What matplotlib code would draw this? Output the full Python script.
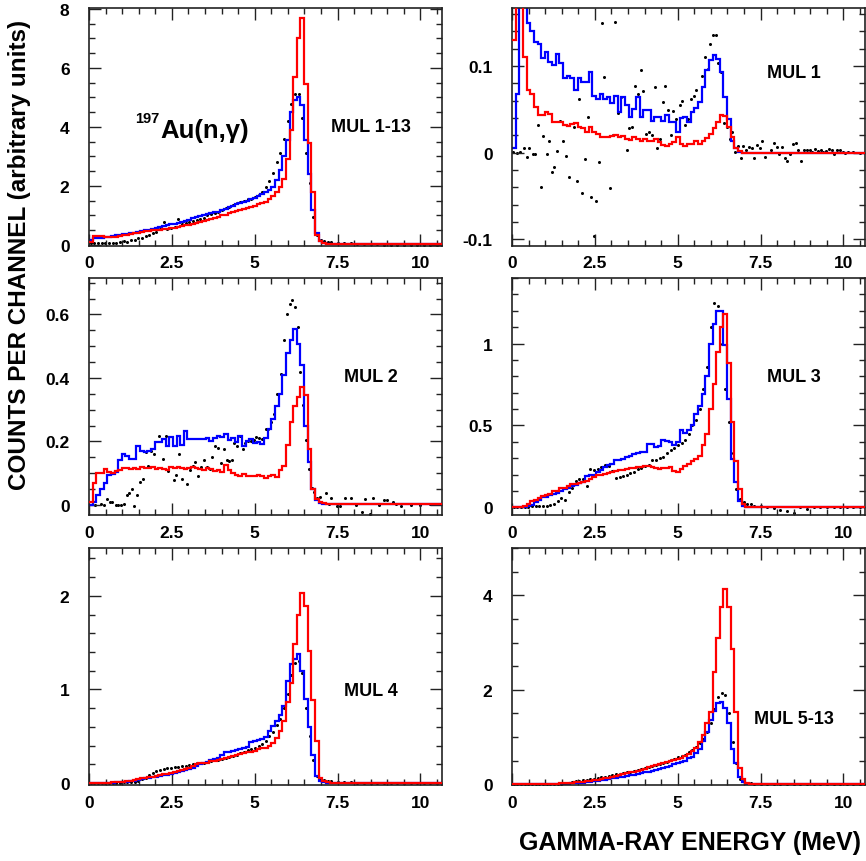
import numpy as np
import matplotlib
matplotlib.use('Agg')
import matplotlib.pyplot as plt
from matplotlib.ticker import MultipleLocator, FuncFormatter

plt.rcParams['font.family'] = ['Liberation Sans', 'DejaVu Sans']
plt.rcParams['font.weight'] = 'bold'

# channel structure: 66 channels of 0.11 MeV, then one wide overflow bin
BIN_WIDTH = 0.11
N_CH = 66
X_MAX = 10.65
edges = np.append(np.arange(N_CH + 1) * BIN_WIDTH, X_MAX)
centers = (np.arange(N_CH) + 0.5) * BIN_WIDTH

TAIL_E = [7.3, 7.5, 7.7, 7.9, 8.1, 8.3, 8.5, 8.7, 8.9, 9.1, 9.3, 9.5,
          9.7, 9.9, 10.1, 10.3, 10.5]

# ---- MUL 1-13
red_all = [0.10, 0.30, 0.30, 0.29, 0.28, 0.27, 0.27, 0.28, 0.30, 0.33, 0.35,
           0.37, 0.40, 0.42, 0.44, 0.46, 0.48, 0.50, 0.51, 0.52, 0.54, 0.55,
           0.57, 0.59, 0.62, 0.65, 0.67, 0.69, 0.72, 0.74, 0.78, 0.80, 0.83,
           0.87, 0.92, 0.96, 1.01, 1.03, 1.08, 1.12, 1.16, 1.19, 1.22, 1.26,
           1.30, 1.33, 1.37, 1.42, 1.47, 1.55, 1.65, 1.80, 1.97, 2.24, 2.90,
           3.90, 5.70, 7.00, 7.70, 5.45, 3.45, 1.78, 0.35, 0.12, 0.06, 0.03,
           0.02]
blue_all = [0.15, 0.22, 0.24, 0.25, 0.26, 0.28, 0.30, 0.32, 0.34, 0.36, 0.38,
            0.40, 0.42, 0.45, 0.47, 0.50, 0.52, 0.55, 0.58, 0.60, 0.63, 0.66,
            0.70, 0.72, 0.75, 0.78, 0.82, 0.86, 0.90, 0.93, 0.97, 1.00, 1.04,
            1.07, 1.10, 1.13, 1.17, 1.22, 1.27, 1.32, 1.38, 1.42, 1.45, 1.50,
            1.55, 1.60, 1.66, 1.72, 1.78, 1.85, 1.95, 2.20, 2.55, 3.00, 3.55,
            4.50, 4.90, 5.00, 4.75, 3.55, 2.40, 1.20, 0.40, 0.12, 0.05, 0.03,
            0.02]
dots_all = [0.05, 0.05, 0.06, 0.05, 0.06, 0.07, 0.06, 0.08, 0.10, 0.12, 0.10,
            0.15, 0.16, 0.22, 0.25, 0.30, 0.34, 0.40, 0.45, 0.55, 0.78, 0.55,
            0.56, 0.62, 0.88, 0.72, 0.75, 0.77, 0.80, 0.85, 0.88, 0.92, 1.00,
            1.04, 1.08, 1.12, 1.20, 1.26, 1.30, 1.35, 1.42, 1.46, 1.50, 1.55,
            1.56, 1.61, 1.70, 1.80, 1.95, 2.15, 2.45, 2.80, 3.10, 3.60, 4.20,
            4.77, 5.13, 5.10, 4.30, 3.10, 2.10, 0.95, 0.35, 0.18, 0.13, 0.11]
tail_all = [0.10, 0.08, 0.06, 0.05, 0.04, 0.03, 0.02, 0.02, 0.01, 0.01, 0.0,
            0.0, -0.01, -0.01, 0.0, 0.0, 0.0]

# ---- MUL 1
red_m1 = [0.13, 0.25, 0.25, 0.11, 0.072, 0.068, 0.053, 0.043, 0.043, 0.047, 0.045,
          0.036, 0.035, 0.036, 0.032, 0.031, 0.033, 0.034, 0.030, 0.028, 0.024, 0.030,
          0.024, 0.022, 0.018, 0.018, 0.018, 0.019, 0.020, 0.018, 0.019, 0.016, 0.015,
          0.018, 0.016, 0.014, 0.016, 0.014, 0.013, 0.016, 0.012, 0.009, 0.008, 0.010,
          0.012, 0.018, 0.010, 0.008, 0.010, 0.010, 0.013, 0.010, 0.014, 0.017, 0.022,
          0.028, 0.036, 0.043, 0.042, 0.030, 0.018, 0.006, 0.002, 0.0, 0.0, 0.0,
          0.0]
blue_m1 = [0.005, 0.068, 0.25, 0.25, 0.15, 0.14, 0.128, 0.126, 0.109, 0.116, 0.105,
           0.101, 0.114, 0.103, 0.086, 0.089, 0.086, 0.072, 0.086, 0.082, 0.082, 0.093,
           0.066, 0.062, 0.068, 0.062, 0.064, 0.057, 0.066, 0.047, 0.064, 0.055, 0.041,
           0.050, 0.064, 0.041, 0.049, 0.049, 0.037, 0.041, 0.041, 0.037, 0.043, 0.035,
           0.036, 0.024, 0.040, 0.041, 0.035, 0.047, 0.052, 0.058, 0.076, 0.095, 0.107,
           0.113, 0.108, 0.093, 0.064, 0.039, 0.014, 0.005, 0.001, 0.0, 0.0, 0.0,
           0.0]
dots_m1 = [(0.04, 0.001), (0.16, 0.0), (0.24, 0.001), (0.37, 0.005), (0.46, -0.005),
           (0.52, 0.006), (0.62, -0.002), (0.70, -0.002), (0.77, 0.032), (0.87, -0.039),
           (0.95, 0.019), (1.05, -0.001), (1.12, 0.013), (1.20, -0.022), (1.28, -0.017),
           (1.37, 0.0015), (1.45, 0.037), (1.54, 0.013), (1.62, -0.004), (1.71, -0.028),
           (1.87, 0.030), (1.95, -0.033), (2.03, 0.062), (2.12, -0.047), (2.20, -0.007),
           (2.30, 0.041), (2.38, -0.051), (2.46, -0.096), (2.54, -0.056), (2.63, -0.011),
           (2.71, 0.150), (2.79, 0.087), (2.96, -0.041), (3.04, 0.020), (3.12, 0.151),
           (3.21, 0.046), (3.29, 0.064), (3.46, 0.003), (3.54, 0.029), (3.62, 0.030),
           (3.71, 0.077), (3.79, 0.068), (3.88, 0.096), (3.96, 0.071), (4.05, 0.022),
           (4.13, 0.024), (4.21, 0.020), (4.30, 0.076), (4.38, 0.005), (4.47, 0.016),
           (4.55, 0.059), (4.63, 0.077), (4.71, 0.049), (4.79, 0.020), (4.87, 0.048),
           (4.96, 0.039), (5.06, 0.055), (5.14, 0.060), (5.23, 0.032), (5.32, 0.039),
           (5.40, 0.062), (5.48, 0.066), (5.56, 0.072), (5.73, 0.089), (5.81, 0.110),
           (5.90, 0.097), (5.98, 0.126), (6.06, 0.136), (6.14, 0.136), (6.23, 0.103),
           (6.31, 0.093), (6.39, 0.034), (6.49, 0.030), (6.57, 0.016), (6.65, 0.024),
           (6.73, 0.001), (6.82, 0.008), (6.90, -0.006), (6.98, 0.008), (7.06, 0.003),
           (7.15, 0.007), (7.23, 0.005), (7.31, -0.006), (7.39, 0.009), (7.47, 0.005),
           (7.55, 0.013), (7.64, -0.005), (7.81, 0.003), (7.90, 0.011), (7.98, 0.007),
           (8.06, -0.001), (8.15, 0.007), (8.23, -0.006), (8.31, -0.010), (8.39, -0.001),
           (8.47, 0.010), (8.56, 0.011), (8.64, 0.003), (8.72, -0.010), (8.81, 0.003),
           (8.90, 0.003), (8.98, 0.003), (9.06, 0.001), (9.15, 0.004), (9.23, 0.002),
           (9.31, 0.003), (9.39, 0.001), (9.48, 0.002), (9.56, 0.004), (9.64, 0.003),
           (9.72, -0.002), (9.81, 0.003), (9.89, 0.003), (9.98, 0.001), (10.06, 0.0),
           (10.14, 0.001), (10.30, 0.001), (10.50, 0.0)]

# ---- MUL 2
red_m2 = [0.01, 0.07, 0.10, 0.10, 0.112, 0.105, 0.10, 0.108, 0.11, 0.116, 0.116,
          0.114, 0.116, 0.112, 0.12, 0.115, 0.116, 0.118, 0.112, 0.116, 0.114, 0.11,
          0.118, 0.116, 0.12, 0.116, 0.113, 0.116, 0.12, 0.116, 0.112, 0.11, 0.116,
          0.113, 0.108, 0.11, 0.105, 0.125, 0.11, 0.10, 0.095, 0.092, 0.096, 0.092,
          0.09, 0.09, 0.095, 0.092, 0.085, 0.09, 0.093, 0.088, 0.11, 0.124, 0.19,
          0.26, 0.31, 0.34, 0.37, 0.345, 0.177, 0.05, 0.019, 0.008, 0.005, 0.004,
          0.003]
blue_m2 = [0.0, 0.01, 0.03, 0.05, 0.07, 0.095, 0.098, 0.105, 0.14, 0.16, 0.155,
           0.145, 0.145, 0.184, 0.17, 0.168, 0.171, 0.175, 0.198, 0.198, 0.208, 0.185,
           0.213, 0.185, 0.218, 0.19, 0.234, 0.208, 0.208, 0.206, 0.208, 0.206, 0.21,
           0.20, 0.21, 0.218, 0.214, 0.222, 0.205, 0.21, 0.198, 0.216, 0.187, 0.20,
           0.208, 0.195, 0.198, 0.192, 0.21, 0.24, 0.27, 0.31, 0.35, 0.41, 0.48,
           0.52, 0.553, 0.508, 0.44, 0.25, 0.135, 0.05, 0.014, 0.006, 0.004, 0.004,
           0.003]
dots_m2 = [(0.18, 0.0), (0.35, 0.003), (0.45, 0.0), (0.53, 0.019), (0.63, 0.008),
           (0.70, 0.01), (0.82, -0.002), (0.89, 0.0), (0.96, 0.0), (1.06, 0.003),
           (1.14, 0.032), (1.22, 0.038), (1.29, 0.05), (1.36, -0.004), (1.46, 0.03),
           (1.54, 0.072), (1.62, 0.082), (1.71, 0.166), (1.79, 0.124), (1.86, 0.171),
           (1.96, 0.161), (2.12, 0.217), (2.23, 0.145), (2.31, 0.217), (2.38, 0.108),
           (2.55, 0.077), (2.63, 0.095), (2.71, 0.161), (2.80, 0.08), (2.95, 0.066),
           (3.05, 0.111), (3.13, 0.124), (3.21, 0.135), (3.30, 0.09), (3.39, 0.119),
           (3.47, 0.14), (3.55, 0.119), (3.64, 0.114), (3.72, 0.15), (3.81, 0.184),
           (3.89, 0.178), (3.97, 0.132), (4.06, 0.177), (4.16, 0.14), (4.22, 0.137),
           (4.31, 0.142), (4.38, 0.196), (4.47, 0.184), (4.55, 0.217), (4.64, 0.177),
           (4.72, 0.196), (4.80, 0.2), (4.88, 0.2), (4.97, 0.205), (5.05, 0.213),
           (5.13, 0.21), (5.22, 0.208), (5.33, 0.238), (5.40, 0.238), (5.48, 0.26),
           (5.57, 0.287), (5.67, 0.35), (5.79, 0.413), (5.89, 0.52), (5.97, 0.6),
           (6.05, 0.632), (6.13, 0.647), (6.22, 0.624), (6.30, 0.56), (6.38, 0.42),
           (6.47, 0.315), (6.56, 0.203), (6.64, 0.114), (6.72, 0.053), (6.80, 0.04),
           (6.88, 0.021), (6.98, 0.024), (7.15, 0.037), (7.23, 0.003), (7.31, 0.021),
           (7.48, -0.004), (7.58, -0.004), (7.73, 0.021), (7.90, 0.021), (8.07, 0.0),
           (8.24, -0.021), (8.32, 0.017), (8.49, -0.03), (8.57, 0.021), (8.74, 0.0),
           (8.91, 0.014), (8.99, 0.014), (9.17, 0.008), (9.25, 0.003), (9.40, -0.004),
           (9.70, 0.0), (10.0, 0.0), (10.3, 0.003)]

# ---- MUL 3
red_m3 = [0.0, 0.0, 0.0, 0.01, 0.02, 0.04, 0.045, 0.055, 0.07, 0.075, 0.08,
          0.10, 0.10, 0.116, 0.12, 0.13, 0.14, 0.14, 0.15, 0.155, 0.163, 0.17,
          0.184, 0.20, 0.20, 0.205, 0.21, 0.214, 0.22, 0.225, 0.23, 0.235, 0.24,
          0.24, 0.245, 0.245, 0.25, 0.25, 0.245, 0.24, 0.235, 0.24, 0.24, 0.245,
          0.22, 0.214, 0.235, 0.25, 0.265, 0.28, 0.296, 0.316, 0.378, 0.45, 0.60,
          0.75, 0.95, 1.10, 1.18, 0.88, 0.52, 0.28, 0.11, 0.02, 0.0, 0.0,
          0.0]
blue_m3 = [0.0, 0.0, 0.0, 0.0, 0.005, 0.015, 0.03, 0.045, 0.06, 0.065, 0.075,
           0.08, 0.09, 0.10, 0.11, 0.116, 0.13, 0.137, 0.15, 0.155, 0.194, 0.20,
           0.20, 0.214, 0.23, 0.245, 0.26, 0.265, 0.286, 0.29, 0.296, 0.305, 0.316,
           0.328, 0.33, 0.335, 0.34, 0.388, 0.385, 0.37, 0.372, 0.408, 0.405, 0.40,
           0.38, 0.40, 0.47, 0.455, 0.47, 0.50, 0.57, 0.62, 0.694, 0.80, 1.00,
           1.12, 1.20, 1.20, 0.99, 0.66, 0.296, 0.153, 0.04, 0.005, 0.0, 0.0,
           0.0]
dots_m3 = [0.0, 0.0, 0.0, 0.0, 0.0, 0.005, 0.005, 0.005, 0.01, 0.01, 0.012,
           0.02, 0.04, 0.055, 0.045, 0.092, 0.12, 0.16, 0.17, 0.175, 0.133, 0.235,
           0.23, 0.235, 0.245, 0.26, 0.255, 0.22, 0.18, 0.185, 0.19, 0.20, 0.21,
           0.215, 0.235, 0.24, 0.25, 0.26, 0.286, 0.29, 0.30, 0.31, 0.33, 0.35,
           0.36, 0.38, 0.39, 0.41, 0.45, 0.50, 0.53, 0.60, 0.72, 0.857, 1.10,
           1.25, 1.23, 1.00, 0.72, 0.52, 0.33, 0.11, 0.05, 0.03, 0.02, 0.02]
tail_m3 = [0.005, 0.005, 0.0, -0.005, -0.015, -0.025, -0.035, 0.0, -0.01, 0.0,
           0.0, 0.0, 0.0, 0.0, 0.0, 0.0, 0.0]

# ---- MUL 4
red_m4 = [0.0, 0.0, 0.0, 0.003, 0.005, 0.005, 0.007, 0.008, 0.01, 0.015, 0.02,
          0.025, 0.03, 0.04, 0.05, 0.058, 0.065, 0.07, 0.08, 0.088, 0.095, 0.10,
          0.105, 0.12, 0.13, 0.14, 0.15, 0.16, 0.18, 0.20, 0.21, 0.22, 0.22,
          0.235, 0.24, 0.25, 0.26, 0.27, 0.28, 0.29, 0.30, 0.31, 0.32, 0.335,
          0.33, 0.344, 0.36, 0.37, 0.38, 0.40, 0.43, 0.486, 0.557, 0.663, 0.865,
          1.07, 1.48, 1.80, 2.03, 1.89, 1.41, 0.89, 0.45, 0.06, 0.02, 0.01,
          0.005]
blue_m4 = [0.0, 0.0, 0.0, 0.0, 0.0, 0.003, 0.005, 0.008, 0.01, 0.012, 0.015,
           0.02, 0.025, 0.03, 0.04, 0.05, 0.056, 0.062, 0.068, 0.075, 0.082, 0.09,
           0.10, 0.11, 0.12, 0.13, 0.14, 0.15, 0.165, 0.18, 0.20, 0.21, 0.225,
           0.25, 0.26, 0.27, 0.30, 0.33, 0.33, 0.34, 0.35, 0.36, 0.375, 0.39,
           0.44, 0.45, 0.46, 0.47, 0.49, 0.557, 0.61, 0.66, 0.73, 0.82, 1.09,
           1.27, 1.32, 1.38, 1.20, 0.90, 0.60, 0.30, 0.08, 0.02, 0.01, 0.005,
           0.005]
dots_m4 = [0.0, 0.0, 0.0, 0.0, 0.0, 0.0, 0.0, 0.005, 0.005, 0.01, 0.01,
           0.01, 0.015, 0.02, 0.04, 0.06, 0.09, 0.11, 0.13, 0.14, 0.15, 0.16,
           0.16, 0.17, 0.17, 0.18, 0.18, 0.19, 0.20, 0.21, 0.215, 0.22, 0.23,
           0.24, 0.245, 0.25, 0.26, 0.27, 0.28, 0.29, 0.30, 0.32, 0.33, 0.35,
           0.36, 0.38, 0.40, 0.42, 0.45, 0.50, 0.55, 0.62, 0.68, 0.80, 0.95,
           1.15, 1.28, 1.30, 1.18, 0.80, 0.50, 0.25, 0.08, 0.04, 0.03, 0.02]
tail_m4 = [0.02, 0.015, 0.01, 0.01, 0.005, 0.005, 0.0, 0.0, 0.0, 0.0, 0.0,
           0.0, 0.0, 0.0, 0.0, 0.0, 0.0]

# ---- MUL 5-13
red_m5 = [0.0, 0.0, 0.0, 0.0, 0.0, 0.0, 0.0, 0.0, 0.0, 0.0, 0.005,
          0.01, 0.015, 0.02, 0.025, 0.03, 0.035, 0.04, 0.045, 0.05, 0.06, 0.07,
          0.09, 0.10, 0.11, 0.13, 0.14, 0.16, 0.18, 0.19, 0.21, 0.23, 0.25,
          0.27, 0.29, 0.31, 0.33, 0.36, 0.38, 0.40, 0.43, 0.45, 0.47, 0.50,
          0.52, 0.535, 0.56, 0.60, 0.64, 0.70, 0.76, 0.90, 1.05, 1.30, 1.52,
          2.37, 3.10, 3.76, 4.13, 3.76, 2.86, 1.52, 0.34, 0.11, 0.03, 0.01,
          0.005]
blue_m5 = [0.0, 0.0, 0.0, 0.0, 0.0, 0.0, 0.0, 0.0, 0.0, 0.0, 0.0,
           0.0, 0.0, 0.005, 0.01, 0.015, 0.02, 0.025, 0.03, 0.035, 0.045, 0.05,
           0.065, 0.08, 0.09, 0.10, 0.11, 0.13, 0.14, 0.15, 0.16, 0.18, 0.19,
           0.20, 0.22, 0.23, 0.25, 0.27, 0.29, 0.31, 0.33, 0.35, 0.37, 0.39,
           0.42, 0.46, 0.48, 0.50, 0.55, 0.58, 0.66, 0.75, 0.92, 1.10, 1.35,
           1.55, 1.72, 1.75, 1.62, 1.30, 0.75, 0.45, 0.15, 0.04, 0.01, 0.0,
           0.0]
dots_m5 = [0.0, 0.0, 0.0, 0.0, 0.0, 0.0, 0.0, 0.0, 0.0, 0.0, 0.0,
           0.0, 0.0, 0.01, 0.02, 0.03, 0.05, 0.07, 0.08, 0.09, 0.10, 0.11,
           0.12, 0.13, 0.15, 0.16, 0.18, 0.20, 0.21, 0.22, 0.24, 0.26, 0.27,
           0.28, 0.30, 0.32, 0.34, 0.36, 0.39, 0.41, 0.43, 0.46, 0.48, 0.51,
           0.54, 0.57, 0.60, 0.63, 0.68, 0.73, 0.78, 0.87, 0.96, 1.10, 1.30,
           1.59, 1.85, 1.93, 1.88, 1.50, 0.90, 0.45, 0.12, 0.06, 0.03, 0.02]
tail_m5 = [0.01, 0.01, 0.005, 0.005, 0.0, 0.0, 0.0, 0.0, 0.0, 0.0, 0.0,
           0.0, 0.0, 0.0, 0.0, 0.0, 0.0]


def as_dots(vals, tail):
    e = np.concatenate([centers, TAIL_E])
    return e, np.concatenate([vals, tail])


def from_pairs(pairs):
    arr = np.array(pairs)
    return arr[:, 0], arr[:, 1]


W, H = 866, 862
fig = plt.figure(figsize=(W / 100, H / 100), dpi=100)

# (left px, top px, width px, height px)
panels = [
    dict(box=(89, 9, 353, 237.5), ylim=(-0.02, 8.03), major=2, minor=0.5,
         red=red_all, blue=blue_all, dots=as_dots(dots_all, tail_all),
         label='MUL 1-13', ly=4.0),
    dict(box=(512, 9, 353, 237.5), ylim=(-0.107, 0.167), major=0.1, minor=0.02,
         red=red_m1, blue=blue_m1, dots=from_pairs(dots_m1),
         label='MUL 1', ly=0.0925),
    dict(box=(89, 279, 353, 237), ylim=(-0.032, 0.715), major=0.2, minor=0.05,
         red=red_m2, blue=blue_m2, dots=from_pairs(dots_m2),
         label='MUL 2', ly=0.403),
    dict(box=(512, 279, 353, 237), ylim=(-0.047, 1.40), major=0.5, minor=0.1,
         red=red_m3, blue=blue_m3, dots=as_dots(dots_m3, tail_m3),
         label='MUL 3', ly=0.80),
    dict(box=(89, 549, 353, 237), ylim=(-0.02, 2.51), major=1, minor=0.2,
         red=red_m4, blue=blue_m4, dots=as_dots(dots_m4, tail_m4),
         label='MUL 4', ly=0.99),
    dict(box=(512, 549, 353, 237), ylim=(-0.015, 5.0), major=2, minor=0.5,
         red=red_m5, blue=blue_m5, dots=as_dots(dots_m5, tail_m5),
         label='MUL 5-13', ly=1.39),
]

fmt = FuncFormatter(lambda v, p: '%g' % round(v, 6))

axes = []
for p in panels:
    l, t, w, h = p['box']
    ax = fig.add_axes([l / W, 1 - (t + h) / H, w / W, h / H])
    axes.append(ax)
    ax.plot(*p['dots'], ls='none', marker='o', ms=2.2, color='black',
            mew=0, zorder=1)
    ax.stairs(p['blue'], edges, color='#0000ff', lw=1.6, baseline=None,
              zorder=2)
    ax.stairs(p['red'], edges, color='#ff0000', lw=1.6, baseline=None,
              zorder=3)
    ax.set_xlim(0, X_MAX)
    ax.set_ylim(*p['ylim'])
    ax.xaxis.set_major_locator(MultipleLocator(2.5))
    ax.xaxis.set_minor_locator(MultipleLocator(0.5))
    ax.yaxis.set_major_locator(MultipleLocator(p['major']))
    ax.yaxis.set_minor_locator(MultipleLocator(p['minor']))
    ax.xaxis.set_major_formatter(fmt)
    ax.yaxis.set_major_formatter(fmt)
    ax.tick_params(which='both', direction='in', top=True, right=True,
                   width=1.0, color='#222222')
    ax.tick_params(which='major', length=8.5, labelsize=12.5)
    ax.tick_params(which='minor', length=4.3)
    ax.tick_params(axis='x', which='major', pad=7)
    ax.tick_params(axis='y', which='major', pad=14)
    for s in ax.spines.values():
        s.set_linewidth(1.2)
        s.set_color('#222222')
    ax.text(8.5, p['ly'], p['label'], ha='center', va='center',
            fontsize=13, fontweight='bold')

# reaction label in the first panel
ax0 = axes[0]
ax0.text(2.14, 3.67, 'Au(n,γ)', ha='left', va='baseline', fontsize=18.5,
         fontweight='bold')
ax0.text(2.12, 4.16, '197', ha='right', va='baseline', fontsize=10.5,
         fontweight='bold')

fig.text(20 / W, 1 - 255 / H, 'COUNTS PER CHANNEL (arbitrary units)',
         rotation=90, ha='center', va='center', fontsize=17.5,
         fontweight='bold')
fig.text(690 / W, 1 - 843 / H, 'GAMMA-RAY ENERGY (MeV)', ha='center',
         va='center', fontsize=18, fontweight='bold')

fig.savefig('out.png', dpi=100)
